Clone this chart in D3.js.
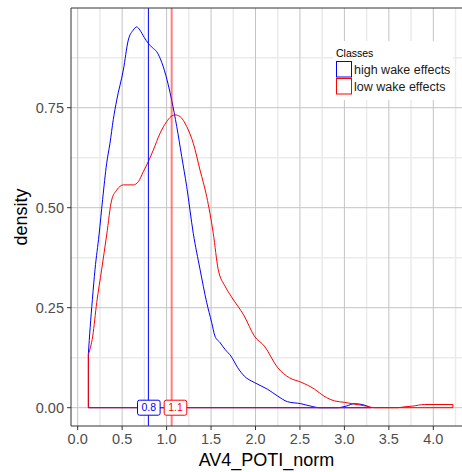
<!DOCTYPE html>
<html>
<head>
<meta charset="utf-8">
<script src="https://cdn.jsdelivr.net/npm/d3@7"></script>
<style>
  html, body { margin: 0; padding: 0; background: #fff; }
  svg { display: block; font-family: "Liberation Sans", Arial, sans-serif; }
</style>
</head>
<body>
<svg id="chart" width="462" height="472"></svg>
<script>
// ---- data ----
const classes = ["high wake effects", "low wake effects"];
const classColors = ["#0000ff", "#ff0000"];
const xTicks = [0.0, 0.5, 1.0, 1.5, 2.0, 2.5, 3.0, 3.5, 4.0];
const yTicks = [0.00, 0.25, 0.50, 0.75];
const highWake = [
  [0.12,0.135],[0.14,0.20],[0.165,0.27],[0.195,0.346],[0.24,0.432],[0.28,0.52],
  [0.326,0.611],[0.363,0.661],[0.40,0.72],[0.439,0.769],[0.513,0.844],[0.569,0.919],
  [0.625,0.944],[0.664,0.952],[0.70,0.944],[0.75,0.925],[0.794,0.911],[0.84,0.90],
  [0.889,0.89],[0.93,0.872],[0.963,0.852],[1.019,0.807],[1.057,0.769],[1.114,0.703],
  [1.17,0.628],[1.226,0.553],[1.30,0.436],[1.376,0.346],[1.451,0.263],[1.507,0.213],
  [1.544,0.179],[1.60,0.163],[1.66,0.145],[1.724,0.129],[1.80,0.10],[1.874,0.079],
  [1.987,0.063],[2.137,0.046],[2.25,0.029],[2.36,0.015],[2.51,0.010],[2.62,0.004],
  [2.72,0.0],[2.92,0.0],[3.02,0.004],[3.11,0.010],[3.2,0.008],[3.3,0.0]
];
const lowWake = [
  [0.12,0.133],[0.169,0.179],[0.214,0.263],[0.27,0.346],[0.326,0.432],[0.382,0.519],
  [0.439,0.544],[0.513,0.557],[0.625,0.557],[0.682,0.565],[0.738,0.59],[0.794,0.615],
  [0.85,0.644],[0.926,0.686],[1.0,0.715],[1.05,0.728],[1.094,0.732],[1.15,0.728],
  [1.226,0.703],[1.30,0.661],[1.376,0.594],[1.451,0.528],[1.525,0.436],[1.58,0.346],
  [1.657,0.304],[1.724,0.279],[1.874,0.229],[1.987,0.179],[2.1,0.154],[2.25,0.10],
  [2.38,0.075],[2.51,0.064],[2.66,0.047],[2.77,0.029],[2.89,0.017],[3.0,0.0135],
  [3.11,0.009],[3.22,0.005],[3.34,0.0],[3.6,0.0],[3.67,0.002],[3.77,0.004],
  [3.9,0.008],[4.22,0.008]
];
const series = [highWake, lowWake];
const meanValues = [0.795, 1.057];
const meanLabels = ["0.8", "1.1"];
const meanLabelX = [0.8, 1.1];

// ---- layout ----
const svg = d3.select("#chart");
const P = { left: 71, right: 462, top: 8, bottom: 426 };
const x = d3.scaleLinear().domain([0, 4]).range([77.7, 433.3]);
const y = d3.scaleLinear().domain([0, 0.75]).range([407.7, 107.7]);

// grid
const g = svg.append("g");
const xMinor = d3.range(-0.25, 4.5, 0.5).map(v => v + 0.0).filter(v => x(v) > P.left && x(v) < P.right);
const yMinor = [0.125, 0.375, 0.625, 0.875];
g.selectAll(".xm").data(xMinor).join("line")
  .attr("x1", d => x(d)).attr("x2", d => x(d)).attr("y1", P.top).attr("y2", P.bottom)
  .attr("stroke", "#ebebeb").attr("stroke-width", 1.5);
g.selectAll(".ym").data(yMinor).join("line")
  .attr("x1", P.left).attr("x2", P.right).attr("y1", d => y(d)).attr("y2", d => y(d))
  .attr("stroke", "#ebebeb").attr("stroke-width", 1.5);
g.selectAll(".xM").data(xTicks).join("line")
  .attr("x1", d => x(d)).attr("x2", d => x(d)).attr("y1", P.top).attr("y2", P.bottom)
  .attr("stroke", "#c4c4c4").attr("stroke-width", 1);
g.selectAll(".yM").data(yTicks).join("line")
  .attr("x1", P.left).attr("x2", P.right).attr("y1", d => y(d)).attr("y2", d => y(d))
  .attr("stroke", "#c4c4c4").attr("stroke-width", 1);

// density polygons
const line = d3.line().x(d => x(d[0])).y(d => y(d[1])).curve(d3.curveMonotoneX);
series.forEach((pts, i) => {
  const poly = [[pts[0][0], 0], ...pts, [pts[pts.length - 1][0], 0]];
  svg.append("path")
    .attr("d", "M" + x(pts[0][0]) + "," + y(0) + "L" + line(pts).slice(1) + "L" + x(pts[pts.length-1][0]) + "," + y(0) + "Z")
    .attr("fill", "none").attr("stroke", classColors[i]).attr("stroke-width", 1);
});

// mean lines
svg.append("line").attr("x1", x(meanValues[0])).attr("x2", x(meanValues[0]))
  .attr("y1", P.top).attr("y2", P.bottom).attr("stroke", classColors[0]).attr("stroke-width", 1);
svg.append("line").attr("x1", x(meanValues[1])).attr("x2", x(meanValues[1]))
  .attr("y1", P.top).attr("y2", P.bottom).attr("stroke", classColors[1]).attr("stroke-opacity", 0.5).attr("stroke-width", 2);

// mean labels
meanLabels.forEach((lab, i) => {
  const cx = x(meanLabelX[i]), cy = y(0);
  const gl = svg.append("g");
  const t = gl.append("text").attr("x", cx).attr("y", cy + 3.6)
    .attr("text-anchor", "middle").attr("font-size", 10.5).attr("fill", classColors[i]).text(lab);
  const w = t.node().getComputedTextLength() + 8;
  gl.insert("rect", "text").attr("x", cx - w / 2).attr("y", cy - 7.5).attr("width", w).attr("height", 15)
    .attr("rx", 2).attr("fill", "#fff").attr("stroke", classColors[i]).attr("stroke-width", 1);
});

// axis lines
svg.append("line").attr("x1", P.left).attr("x2", P.right).attr("y1", P.top).attr("y2", P.top)
  .attr("stroke", "#333").attr("stroke-width", 1);
svg.append("line").attr("x1", P.left).attr("x2", P.left).attr("y1", P.top).attr("y2", P.bottom)
  .attr("stroke", "#333").attr("stroke-width", 1);
svg.append("line").attr("x1", P.left).attr("x2", P.right).attr("y1", P.bottom).attr("y2", P.bottom)
  .attr("stroke", "#333").attr("stroke-width", 1);

// ticks
svg.selectAll(".xt").data(xTicks).join("line")
  .attr("x1", d => x(d)).attr("x2", d => x(d)).attr("y1", P.bottom).attr("y2", P.bottom + 4)
  .attr("stroke", "#333");
svg.selectAll(".yt").data(yTicks).join("line")
  .attr("x1", P.left - 4).attr("x2", P.left).attr("y1", d => y(d)).attr("y2", d => y(d))
  .attr("stroke", "#333");
svg.selectAll(".xl").data(xTicks).join("text")
  .attr("x", d => x(d)).attr("y", 444).attr("text-anchor", "middle")
  .attr("font-size", 14.5).attr("fill", "#4d4d4d").text(d => d.toFixed(1));
svg.selectAll(".yl").data(yTicks).join("text")
  .attr("x", 64).attr("y", d => y(d) + 5).attr("text-anchor", "end")
  .attr("font-size", 14.5).attr("fill", "#4d4d4d").text(d => d.toFixed(2));

// axis titles
svg.append("text").attr("x", (P.left + P.right) / 2).attr("y", 466).attr("text-anchor", "middle")
  .attr("font-size", 18).attr("fill", "#000").text("AV4_POTI_norm");
svg.append("text").attr("transform", `translate(27,${(P.top + P.bottom) / 2}) rotate(-90)`)
  .attr("text-anchor", "middle").attr("font-size", 18).attr("fill", "#000").text("density");

// legend
const lg = svg.append("g");
lg.append("rect").attr("x", 333).attr("y", 41).attr("width", 120).attr("height", 59).attr("fill", "#fff");
lg.append("text").attr("x", 336).attr("y", 57).attr("font-size", 10.5).attr("fill", "#000").text("Classes");
classes.forEach((c, i) => {
  const ky = 61 + i * 17;
  lg.append("rect").attr("x", 336.5).attr("y", ky + 0.5).attr("width", 15).attr("height", 15.5)
    .attr("fill", "#fff").attr("stroke", classColors[i]).attr("stroke-width", 1);
  lg.append("text").attr("x", 354).attr("y", ky + 12.5).attr("font-size", 12.5).attr("fill", "#1a1a1a").text(c);
});
</script>
</body>
</html>
